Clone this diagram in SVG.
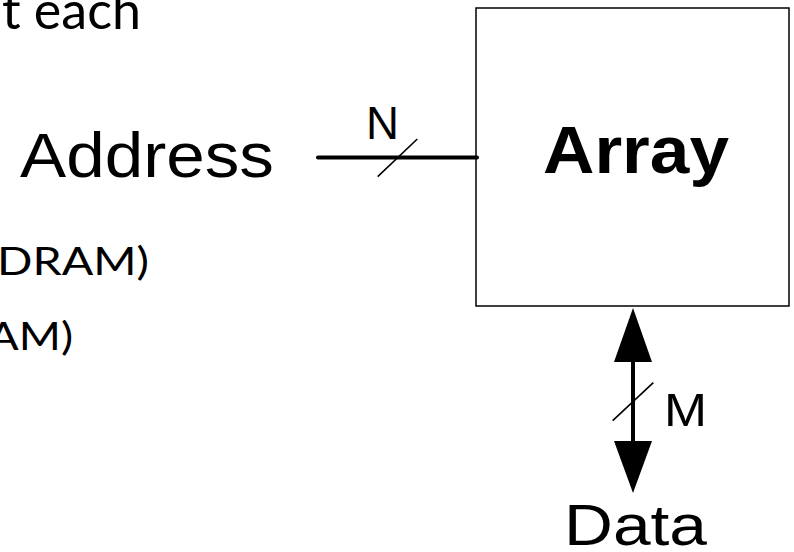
<svg xmlns="http://www.w3.org/2000/svg" width="794" height="552" viewBox="0 0 794 552">
  <style>
    .arial { font-family: "Liberation Sans", Arial, sans-serif; fill: #000; }
    .body { font-family: Lato, "Open Sans", sans-serif; fill: #000; }
    .bus { stroke: #000; stroke-width: 4; fill: none; }
    .slash { stroke: #000; stroke-width: 1.6; fill: none; }
  </style>
  <rect width="794" height="552" fill="#fff"/>
  <g id="background-text">
    <text class="body" x="141" y="28.5" font-size="52" text-anchor="end">t each</text>
    <text class="body" x="149" y="275" font-size="39" text-anchor="end" textLength="152" lengthAdjust="spacingAndGlyphs">DRAM)</text>
    <text class="body" x="73" y="350" font-size="39" text-anchor="end" textLength="85" lengthAdjust="spacingAndGlyphs">AM)</text>
  </g>
  <g id="address">
    <text class="arial" x="20" y="177" font-size="63" textLength="254" lengthAdjust="spacingAndGlyphs">Address</text>
  </g>
  <g id="array">
    <rect x="476" y="8" width="313" height="298" fill="#fff" stroke="#000" stroke-width="1.5"/>
    <text class="arial" x="543" y="173" font-size="67" font-weight="bold" textLength="186" lengthAdjust="spacingAndGlyphs">Array</text>
  </g>
  <g id="data">
    <text class="arial" x="564" y="545" font-size="58" textLength="143" lengthAdjust="spacingAndGlyphs">Data</text>
  </g>
  <g id="connectors">
    <line class="bus" x1="318" y1="157.5" x2="477" y2="157.5" stroke-linecap="round"/>
    <line class="slash" x1="377.7" y1="176.7" x2="417.3" y2="139"/>
    <text class="arial" x="366" y="139" font-size="47" textLength="33" lengthAdjust="spacingAndGlyphs">N</text>
    <line class="bus" x1="633" y1="358" x2="633" y2="445"/>
    <polygon points="633,308 614,362 652,362" fill="#000"/>
    <polygon points="614,441 652,441 633,493" fill="#000"/>
    <line class="slash" x1="612.7" y1="420.7" x2="653.3" y2="382.7"/>
    <text class="arial" x="664" y="426" font-size="47" textLength="43" lengthAdjust="spacingAndGlyphs">M</text>
  </g>
</svg>
